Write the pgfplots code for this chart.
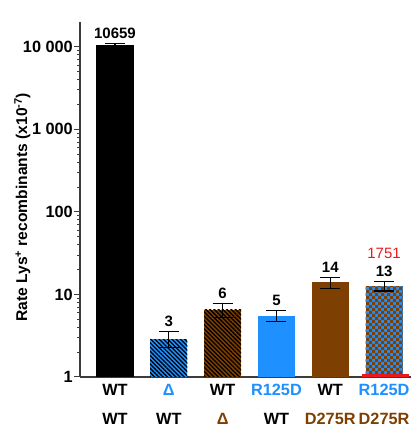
\documentclass[border=0pt]{standalone}
\usepackage{pgfplots}
\pgfplotsset{compat=1.18}
\usepackage{fontspec}
\setmainfont{Liberation Sans}
\usetikzlibrary{patterns,patterns.meta}
\definecolor{myblue}{RGB}{30,144,255}
\definecolor{mybrown}{RGB}{126,63,2}
\definecolor{myred}{RGB}{235,25,30}
\definecolor{axgray}{RGB}{60,60,60}
\pgfdeclarepatternformonly{mycheck}{\pgfqpoint{-.1pt}{-.1pt}}{\pgfqpoint{6.1pt}{6.1pt}}{\pgfqpoint{6pt}{6pt}}{%
  \pgfpathrectangle{\pgfqpoint{0pt}{0pt}}{\pgfqpoint{3.05pt}{3.05pt}}%
  \pgfpathrectangle{\pgfqpoint{3pt}{3pt}}{\pgfqpoint{3.05pt}{3.05pt}}%
  \pgfusepath{fill}}
\begin{document}
\begin{tikzpicture}
\useasboundingbox (-80pt,-66pt) rectangle (331pt,377pt);
\begin{axis}[
  scale only axis, width=331pt, height=355pt,
  at={(0,0)}, anchor=south west,
  ymode=log, ymin=1, ymax=20000,
  xmin=-0.65, xmax=5.5,
  axis x line*=bottom, axis y line*=left,
  axis line style={-, line width=1.3pt, color=axgray},
  ytick={1,10,100,1000,10000},
  yticklabels={1,10,100,1 000,10 000},
  yticklabel style={font=\bfseries\fontsize{16.3}{16}\selectfont, inner sep=1pt},
  tick align=outside,
  major tick length=6pt, minor tick length=3pt,
  ytick style={line width=1pt, color=axgray},
  xtick={0,1,2,3,4,5},
  xtick style={draw=none},
  xticklabels={
    {WT\\WT},
    {\textcolor{myblue}{Δ}\\WT},
    {WT\\\textcolor{mybrown}{Δ}},
    {\textcolor{myblue}{R125D}\\WT},
    {WT\\\textcolor{mybrown}{D275R}},
    {\textcolor{myblue}{R125D}\\\textcolor{mybrown}{D275R}}},
  xticklabel style={font=\bfseries\fontsize{16.3}{29}\selectfont, align=center, inner sep=0pt, yshift=-1pt},
  ylabel={Rate Lys\textsuperscript{+} recombinants (x10\textsuperscript{-7})},
  ylabel style={font=\bfseries\fontsize{15.6}{16}\selectfont, at={(axis description cs:-0.174,0.478)}, anchor=center},
  clip=false,
]
\pgfplotsset{mybar/.style={ybar, bar width=0.69, bar shift=0pt,
  error bars/y dir=both, error bars/y explicit,
  error bars/error bar style={line width=1.1pt, black},
  error bars/error mark options={rotate=90, line width=1.1pt, black, mark size=10pt}}}
\addplot[mybar, fill=black, draw=none]
  coordinates {(0,10659) += (0,250) -= (0,250)};
\addplot[mybar, fill=myblue, draw=none, postaction={pattern={Lines[angle=-45,distance=3pt,line width=1.3pt]}, pattern color=black}]
  coordinates {(1,2.88) += (0,0.69) -= (0,0.60)};
\addplot[mybar, fill=mybrown, draw=none, postaction={pattern={Lines[angle=-45,distance=3pt,line width=1.3pt]}, pattern color=black}]
  coordinates {(2,6.5) += (0,1.2) -= (0,1.23)};
\addplot[mybar, fill=myblue, draw=none]
  coordinates {(3,5.46) += (0,0.87) -= (0,0.75)};
\addplot[mybar, fill=mybrown, draw=none]
  coordinates {(4,14.2) += (0,1.8) -= (0,2.3)};
\addplot[mybar, fill=myblue, draw=none, postaction={pattern=mycheck, pattern color=mybrown}]
  coordinates {(5,12.6) += (0,1.8) -= (0,1.6)};
\addplot[sharp plot, myred, line width=3pt, forget plot] coordinates {(4.585,1.04) (5.47,1.04)};
\begin{scope}[every node/.style={anchor=south, inner sep=0pt, font=\bfseries\fontsize{15}{15}\selectfont}]
\node at (axis cs:0,10909) [yshift=5pt] {10659};
\node at (axis cs:1,3.57) [yshift=5pt] {3};
\node at (axis cs:2,7.7) [yshift=5pt] {6};
\node at (axis cs:3,6.33) [yshift=5pt] {5};
\node at (axis cs:4,16.0) [yshift=5pt] {14};
\node at (axis cs:5,14.4) [yshift=5pt] {13};
\node at (axis cs:5,14.4) [yshift=23pt, font=\fontsize{15}{15}\selectfont, text=myred] {1751};
\end{scope}
\end{axis}
\end{tikzpicture}
\end{document}
